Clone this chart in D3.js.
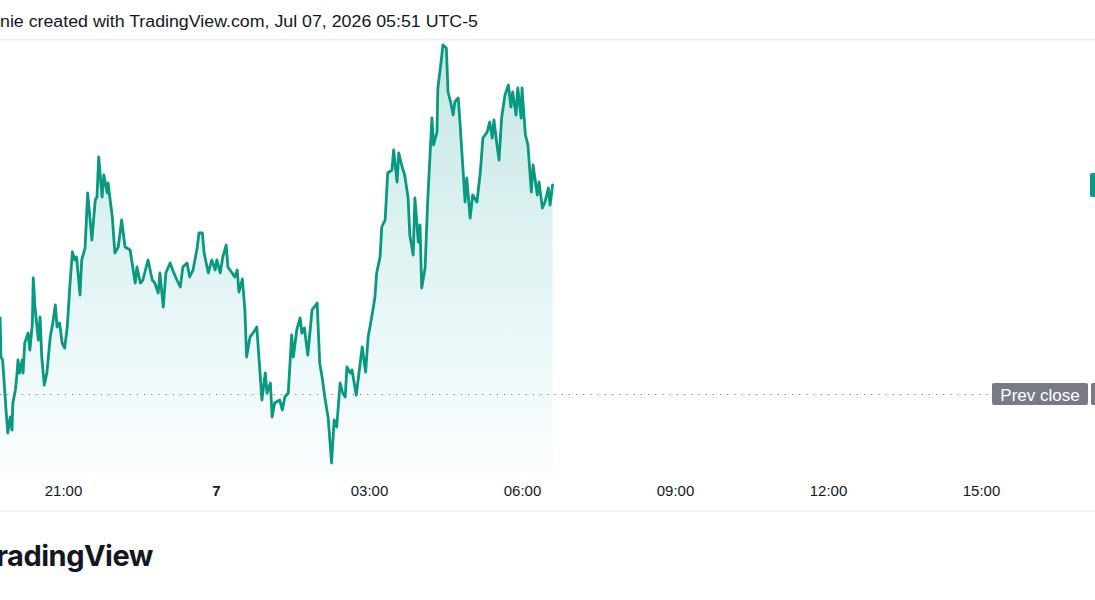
<!DOCTYPE html>
<html>
<head>
<meta charset="utf-8">
<script src="https://cdn.jsdelivr.net/npm/d3@7"></script>
<style>
  body { margin: 0; background: #fff; overflow: hidden; }
  svg { display: block; font-family: "Liberation Sans", "DejaVu Sans", sans-serif; }
</style>
</head>
<body>
<svg id="chart" width="1095" height="600"></svg>
<script>
// minutes after Jul 6 2026 21:00
var minutes = [-74,-73,-71,-67,-65,-62,-60,-59,-56,-54,-53,-51,-48,-47,-45,-41,-39,-36,-35,-33,
  -29,-27,-25,-22,-19,-15,-12,-9,-7,-4,-1,2,5,8,11,14,16,20,22,26,
  29,34,38,40,42,46,48,52,53,58,61,65,69,73,79,82,85,87,91,94,
  100,105,108,112,114,118,121,126,129,134,138,141,146,149,153,158,160,164,166,171,
  175,179,181,185,188,192,194,199,202,205,207,211,214,216,220,226,228,231,234,238,
  240,244,246,249,255,258,261,265,269,271,275,279,281,284,288,293,299,302,305,308,
  312,316,319,322,326,329,332,334,338,340,345,352,356,359,364,367,369,373,375,379,
  382,387,389,393,395,399,402,406,408,412,414,418,420,422,426,429,434,436,440,441,
  444,447,451,453,456,459,461,465,467,471,473,475,479,482,487,491,494,499,502,505,
  507,511,513,516,520,524,527,529,533,535,539,540,544,547,551,553,558,560,564,567,
  571,573,576];

var prices = [101.52,100.74,100.68,99.68,99.22,99.54,99.28,99.82,100.08,100.42,100.68,100.42,100.68,100.42,101.02,101.22,100.88,101.42,102.32,101.74,
  101.08,101.54,100.74,100.18,100.42,101.14,101.42,101.78,101.34,101.42,101.02,100.92,101.34,102.14,102.84,102.68,102.74,101.98,102.68,102.92,
  104.02,103.08,103.88,103.94,104.74,103.94,104.38,104.02,104.22,103.54,102.82,102.94,103.48,102.94,102.88,102.54,102.22,102.54,102.22,102.28,
  102.68,102.28,102.22,102.02,102.42,101.74,102.42,102.62,102.48,102.28,102.14,102.54,102.62,102.34,102.48,102.94,103.22,103.22,102.82,102.42,
  102.68,102.48,102.68,102.42,102.74,102.98,102.54,102.42,102.34,102.48,102.04,102.30,101.68,100.74,101.14,101.28,101.34,100.62,99.88,100.42,
  100.02,100.22,99.54,99.82,99.88,99.68,99.94,100.02,101.18,100.74,101.28,101.52,101.22,101.32,100.78,101.68,101.82,100.62,100.32,99.94,
  99.52,98.62,99.48,99.34,100.22,100.02,99.94,100.54,100.42,100.48,99.98,100.94,100.44,101.14,101.62,101.94,102.42,102.74,103.34,103.48,
  104.42,104.48,104.88,104.24,104.82,104.54,104.38,103.92,103.18,102.78,103.92,103.04,103.38,102.12,102.52,103.84,105.52,104.98,105.24,106.12,
  106.52,106.98,106.92,106.04,105.84,105.58,105.84,105.92,105.44,104.38,103.84,104.32,103.52,103.98,103.84,104.44,105.12,105.24,105.44,105.12,
  105.48,104.92,104.68,105.52,105.98,106.18,105.74,106.04,105.58,106.12,105.52,106.12,105.18,104.98,104.04,104.58,103.98,104.24,103.72,103.84,
  104.12,103.78,104.18];

var prevClose = 100.00;
var tickHours = [0, 3, 6, 9, 12, 15, 18];
var tickLabels = ["21:00", "7", "03:00", "06:00", "09:00", "12:00", "15:00"];
var headerText = "nie created with TradingView.com, Jul 07, 2026 05:51 UTC-5";

var green = "#089981";
var start = new Date(2026, 6, 6, 21, 0);
function at(m) { return new Date(start.getTime() + m * 60000); }

var data = minutes.map(function(m, i) { return {t: at(m), p: prices[i]}; });

var x = d3.scaleTime().domain([at(0), at(18 * 60)]).range([63, 981]);
var y = d3.scaleLinear().domain([98.44, 107.08]).range([472, 40]);

var svg = d3.select("#chart");

// separators
svg.append("line").attr("x1", 0).attr("x2", 1095).attr("y1", 39.5).attr("y2", 39.5)
  .style("stroke", "#eef0f4").style("stroke-width", 2);
svg.append("line").attr("x1", 0).attr("x2", 1095).attr("y1", 511).attr("y2", 511)
  .style("stroke", "#f1f2f6").style("stroke-width", 2);

// header
svg.append("text")
  .attr("x", 0).attr("y", 27)
  .attr("textLength", 478).attr("lengthAdjust", "spacingAndGlyphs")
  .style("font-size", "16px").style("fill", "#131722")
  .text(headerText);

// gradient
var grad = svg.append("defs").append("linearGradient")
  .attr("id", "areaFill").attr("gradientUnits", "userSpaceOnUse")
  .attr("x1", 0).attr("y1", 40).attr("x2", 0).attr("y2", 472);
grad.append("stop").attr("offset", "0%").attr("stop-color", green).attr("stop-opacity", 0.24);
grad.append("stop").attr("offset", "100%").attr("stop-color", "#22abc2").attr("stop-opacity", 0.02);

var area = d3.area()
  .x(function(d) { return x(d.t); })
  .y0(472)
  .y1(function(d) { return y(d.p); });

var line = d3.line()
  .x(function(d) { return x(d.t); })
  .y(function(d) { return y(d.p); });

svg.append("path").datum(data).attr("d", area).style("fill", "url(#areaFill)");

// prev close dotted line
var yc = Math.round(y(prevClose)) + 0.5;
svg.append("line").attr("x1", 0).attr("x2", 988).attr("y1", yc).attr("y2", yc)
  .style("stroke", "#787b86").style("stroke-width", 1.2).style("stroke-dasharray", "1.2,6");

svg.append("path").datum(data).attr("d", line)
  .style("fill", "none").style("stroke", green).style("stroke-width", 2.8)
  .style("stroke-linejoin", "round").style("stroke-linecap", "round");

// prev close label
svg.append("rect").attr("x", 992).attr("y", yc - 11.5).attr("width", 96).attr("height", 22)
  .attr("rx", 2).style("fill", "#787b86");
svg.append("text").attr("x", 1040).attr("y", yc).attr("dy", "0.36em")
  .attr("text-anchor", "middle").style("font-size", "17px").style("fill", "#fff")
  .text("Prev close");
svg.append("rect").attr("x", 1091).attr("y", yc - 11.5).attr("width", 20).attr("height", 22)
  .attr("rx", 2).style("fill", "#787b86");

// last price marker on price scale
var last = data[data.length - 1];
svg.append("rect").attr("x", 1090).attr("y", y(last.p) - 12).attr("width", 20).attr("height", 24)
  .attr("rx", 2).style("fill", green);

// time axis
var axis = svg.append("g").attr("transform", "translate(0,491)")
  .call(d3.axisBottom(x)
    .tickValues(tickHours.map(function(h) { return at(h * 60); }))
    .tickSize(0)
    .tickFormat(function(d, i) { return tickLabels[i]; }));
axis.select(".domain").remove();
axis.selectAll("text")
  .attr("y", 0).attr("dy", "0.36em")
  .style("font-family", "\"Liberation Sans\", \"DejaVu Sans\", sans-serif")
  .style("font-size", "15px").style("fill", "#131722")
  .style("font-weight", function(d, i) { return tickLabels[i] === "7" ? "bold" : "normal"; });

// logo
svg.append("text")
  .attr("x", 153).attr("y", 566).attr("text-anchor", "end")
  .style("font-family", "Inter, Lato, sans-serif").style("font-weight", 700)
  .style("font-size", "29px").style("letter-spacing", "-0.5px").style("fill", "#131722")
  .text("TradingView");
</script>
</body>
</html>
